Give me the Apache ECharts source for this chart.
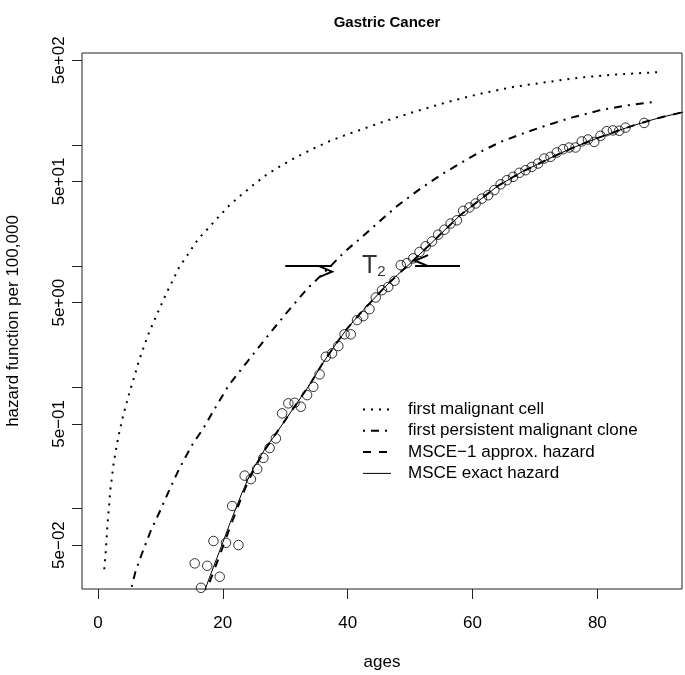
<!DOCTYPE html>
<html>
<head>
<meta charset="utf-8">
<script src="https://cdn.jsdelivr.net/npm/echarts@6/dist/echarts.min.js"></script>
<style>
  html, body { margin: 0; padding: 0; background: #fff; }
  #chart { width: 685px; height: 675px; }
</style>
</head>
<body>
<div id="chart"></div>
<script>
// first malignant cell (dotted)
const cellAge = [1, 1.25, 1.5, 2, 2.5, 3, 3.5, 4, 5, 6, 6.5, 8, 9.5, 11, 13, 16, 19, 21, 23, 25, 27, 29.5, 32, 34.5, 37, 39.5, 42, 45, 48, 51, 56, 61, 66.5, 72, 77, 82.5, 90]
const cellRate = [0.0316, 0.0447, 0.0708, 0.145, 0.234, 0.331, 0.447, 0.575, 0.891, 1.32, 1.62, 2.69, 4.07, 6.03, 9.77, 16.6, 24.5, 31.6, 38.9, 47.3, 56.9, 68.4, 80.4, 93.3, 107, 120, 133, 151, 170, 190, 226, 263, 301, 331, 359, 380, 400]

// first persistent malignant clone (dot-dash)
const cloneAge = [5.4, 6, 7, 8.5, 10, 11.5, 13, 15, 17, 18.5, 21, 24, 27, 30, 33.5, 37, 39.5, 42, 44.5, 48, 51.5, 55, 58, 61, 64.5, 68, 72, 76, 80.5, 85, 89]
const cloneRate = [0.0226, 0.0301, 0.042, 0.0665, 0.097, 0.145, 0.212, 0.33, 0.47, 0.64, 1.05, 1.65, 2.58, 4.0, 6.5, 9.7, 13.1, 16.9, 22.0, 31.6, 43.0, 57.0, 70.3, 86.5, 106, 124, 146, 169, 194, 213, 226]

// MSCE exact hazard (solid) and MSCE-1 approx. hazard (dashed)
const msceAge = [17, 18, 19, 20, 21, 22, 23, 24, 25, 26, 27, 28, 29, 30, 32, 34, 36, 38, 40, 42, 44, 46, 48, 50, 52, 54, 56, 58, 60, 62, 64, 66, 68, 70, 72, 74, 76, 78, 80, 82, 84, 86, 88, 90, 92, 94]
const exactRate = [0.0204, 0.0282, 0.0385, 0.0525, 0.0724, 0.0977, 0.132, 0.174, 0.219, 0.269, 0.324, 0.380, 0.452, 0.537, 0.759, 1.07, 1.58, 2.24, 3.09, 4.07, 5.25, 6.76, 8.51, 10.5, 13.2, 16.6, 20.9, 26.3, 31.6, 38.0, 45.7, 52.5, 60.3, 67.6, 75.9, 85.1, 94.4, 104, 114, 124, 135, 146, 157, 168, 178, 188]
const approxRate = [0.0186, 0.0257, 0.0352, 0.0482, 0.0668, 0.0910, 0.124, 0.165, 0.210, 0.262, 0.320, 0.380, 0.452, 0.537, 0.759, 1.07, 1.58, 2.24, 3.09, 4.07, 5.25, 6.76, 8.51, 10.5, 13.2, 16.6, 20.9, 26.3, 31.6, 38.0, 45.7, 52.5, 60.3, 67.6, 75.9, 85.1, 94.4, 104, 114, 124, 135, 146, 157, 168, 178, 188]

// observed rates (circles)
const obsAge = [15.5, 16.5, 17.5, 18.5, 19.5, 20.5, 21.5, 22.5, 23.5, 24.5, 25.5, 26.5, 27.5, 28.5, 29.5, 30.5, 31.5, 32.5, 33.5, 34.5, 35.5, 36.5, 37.5, 38.5, 39.5, 40.5, 41.5, 42.5, 43.5, 44.5, 45.5, 46.5, 47.5, 48.5, 49.5, 50.5, 51.5, 52.5, 53.5, 54.5, 55.5, 56.5, 57.5, 58.5, 59.5, 60.5, 61.5, 62.5, 63.5, 64.5, 65.5, 66.5, 67.5, 68.5, 69.5, 70.5, 71.5, 72.5, 73.5, 74.5, 75.5, 76.5, 77.5, 78.5, 79.5, 80.5, 81.5, 82.5, 83.5, 84.5, 87.5]
const obsRate = [0.0353, 0.0222, 0.0337, 0.0540, 0.0274, 0.0522, 0.105, 0.0500, 0.187, 0.175, 0.212, 0.262, 0.316, 0.379, 0.610, 0.738, 0.746, 0.692, 0.863, 1.01, 1.28, 1.79, 1.91, 2.19, 2.74, 2.74, 3.59, 3.87, 4.42, 5.52, 6.34, 6.75, 7.57, 10.2, 10.6, 11.6, 13.1, 14.6, 16.0, 18.2, 20.0, 22.5, 23.9, 28.6, 30.5, 32.9, 36.1, 38.5, 42.4, 47.4, 51.2, 54.6, 58.9, 61.9, 65.9, 70.3, 77.3, 79.8, 86.7, 92.3, 95.3, 95.3, 107, 111, 106, 119, 130, 132, 131, 139, 152]

// axes
const xTicks = [0, 20, 40, 60, 80]
const xRange = [-2.56, 93.56]
const yTickVals = [0.05, 0.1, 0.5, 1, 5, 10, 50, 100, 500]
const yLabelVals = [0.05, 0.5, 5, 50, 500]
const yLabelText = ['5e\u221202', '5e\u221201', '5e+00', '5e+01', '5e+02']
const yRange = [0.0217, 574]

// T2 annotation
const arrowLevel = 10
const arrowLeft = [30, 37.5]
const arrowRight = [58, 50.8]
const t2Pos = [44.2, 10]

const FONT = '"Liberation Sans", Arial, Helvetica, sans-serif'
const lg = v => Math.log10(v)
const pairs = (xs, ys) => xs.map((x, i) => [x, lg(ys[i])])

const chart = echarts.init(document.getElementById('chart'), null, { renderer: 'canvas' })

const arrowHead = 'emptypath://M0,12 L5,0 L10,12 L5,0 Z'
const noFill = 'rgba(0,0,0,0)'

const option = {
  animation: false,
  backgroundColor: '#fff',
  title: {
    text: 'Gastric Cancer',
    left: 382,
    top: 10,
    textAlign: 'center',
    textStyle: { fontFamily: FONT, fontSize: 15, fontWeight: 'bold', color: '#000' }
  },
  grid: {
    left: 82, right: 3, top: 53, bottom: 86,
    show: true, borderColor: '#222', borderWidth: 1,
    containLabel: false,
    outerBoundsMode: 'none'
  },
  legend: {
    orient: 'vertical',
    left: 362,
    top: 401,
    padding: 0,
    itemGap: 4.3,
    itemWidth: 28,
    itemHeight: 14,
    selectedMode: false,
    data: ['first malignant cell', 'first persistent malignant clone', 'MSCE\u22121 approx. hazard', 'MSCE exact hazard'],
    lineStyle: { width: 'inherit' },
    itemStyle: { color: noFill, borderWidth: 0 },
    textStyle: { fontFamily: FONT, fontSize: 17, color: '#000', lineHeight: 17, padding: [0, 0, 0, 12] }
  },
  xAxis: {
    type: 'value',
    min: xRange[0],
    max: xRange[1],
    name: 'ages',
    nameLocation: 'middle',
    nameGap: 65,
    nameTextStyle: { fontFamily: FONT, fontSize: 17, color: '#000' },
    axisLine: { show: false, onZero: false },
    axisTick: { show: true, length: 10, customValues: xTicks, lineStyle: { color: '#222', width: 1 } },
    axisLabel: { customValues: xTicks, margin: 26, fontFamily: FONT, fontSize: 17, color: '#000' },
    splitLine: { show: false }
  },
  yAxis: {
    type: 'value',
    min: lg(yRange[0]),
    max: lg(yRange[1]),
    name: 'hazard function per 100,000',
    nameLocation: 'middle',
    nameGap: 60,
    nameTextStyle: { fontFamily: FONT, fontSize: 17, color: '#000' },
    axisLine: { show: false, onZero: false },
    axisTick: { show: true, length: 10, customValues: yTickVals.map(lg), lineStyle: { color: '#222', width: 1 } },
    axisLabel: {
      customValues: yLabelVals.map(lg),
      rotate: 90,
      margin: 14,
      fontFamily: FONT, fontSize: 17, color: '#000',
      formatter: v => {
        const i = yLabelVals.findIndex(t => Math.abs(lg(t) - v) < 1e-6)
        return i >= 0 ? yLabelText[i] : ''
      }
    },
    splitLine: { show: false }
  },
  series: [
    {
      name: 'first malignant cell',
      type: 'line',
      data: pairs(cellAge, cellRate),
      symbol: 'none',
      silent: true,
      itemStyle: { color: noFill },
      lineStyle: { color: '#000', width: 2, type: [2, 6] }
    },
    {
      name: 'first persistent malignant clone',
      type: 'line',
      data: pairs(cloneAge, cloneRate),
      symbol: 'none',
      silent: true,
      itemStyle: { color: noFill },
      lineStyle: { color: '#000', width: 2, type: [2, 6, 8, 6] }
    },
    {
      name: 'MSCE\u22121 approx. hazard',
      type: 'line',
      data: pairs(msceAge, approxRate),
      symbol: 'none',
      silent: true,
      itemStyle: { color: noFill },
      lineStyle: { color: '#000', width: 2, type: [8, 8] }
    },
    {
      name: 'MSCE exact hazard',
      type: 'line',
      data: pairs(msceAge, exactRate),
      symbol: 'none',
      silent: true,
      itemStyle: { color: noFill },
      lineStyle: { color: '#000', width: 1, type: 'solid' },
      markLine: {
        silent: true,
        animation: false,
        symbol: ['none', arrowHead],
        symbolSize: [11, 13],
        symbolOffset: [0, '50%'],
        label: { show: false },
        lineStyle: { color: '#000', width: 2, type: 'solid' },
        data: [
          [{ coord: [arrowLeft[0], lg(arrowLevel)] }, { coord: [arrowLeft[1], lg(arrowLevel)] }],
          [{ coord: [arrowRight[0], lg(arrowLevel)] }, { coord: [arrowRight[1], lg(arrowLevel)] }]
        ]
      }
    },
    {
      name: 'observed',
      type: 'scatter',
      data: pairs(obsAge, obsRate),
      symbol: 'circle',
      symbolSize: 9.5,
      silent: true,
      itemStyle: { color: noFill, borderColor: '#000', borderWidth: 1 }
    },
    {
      name: 'T2',
      type: 'scatter',
      data: [[t2Pos[0], lg(t2Pos[1])]],
      symbolSize: 0,
      silent: true,
      label: {
        show: true,
        position: 'inside',
        formatter: '{t|T}{s|2}',
        rich: {
          t: { fontFamily: FONT, fontSize: 25, color: '#000', lineHeight: 26 },
          s: { fontFamily: FONT, fontSize: 15, color: '#000', lineHeight: 15, verticalAlign: 'bottom' }
        }
      }
    }
  ]
}

chart.setOption(option)
</script>
</body>
</html>
